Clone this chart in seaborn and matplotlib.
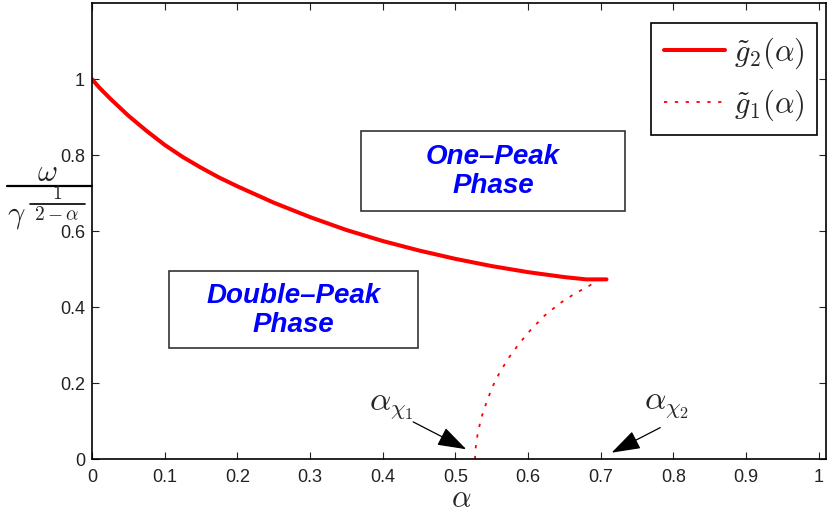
import numpy as np
import pandas as pd
import matplotlib
matplotlib.use('Agg')
import matplotlib.pyplot as plt
from matplotlib.lines import Line2D
import seaborn as sns

# ---------------------- 数据 ----------------------
g2_alpha = [0.0, 0.01, 0.025, 0.05, 0.075, 0.1, 0.125, 0.15, 0.175, 0.2, 0.25, 0.3,
            0.35, 0.4, 0.45, 0.5, 0.55, 0.6, 0.65, 0.68, 0.708]
g2_value = [1.0, 0.978, 0.949, 0.904, 0.864, 0.827, 0.795, 0.767, 0.741, 0.718,
            0.675, 0.637, 0.603, 0.574, 0.549, 0.527, 0.508, 0.492, 0.479, 0.473, 0.473]

g1_alpha = [0.527, 0.528, 0.531, 0.536, 0.543, 0.551, 0.561, 0.574, 0.589, 0.605,
            0.623, 0.643, 0.664, 0.685, 0.692]
g1_value = [0.0, 0.030, 0.070, 0.110, 0.150, 0.190, 0.228, 0.268, 0.307, 0.343,
            0.378, 0.409, 0.435, 0.457, 0.466]

x_ticks = [0, 0.1, 0.2, 0.3, 0.4, 0.5, 0.6, 0.7, 0.8, 0.9, 1]
x_tick_labels = ['0', '0.1', '0.2', '0.3', '0.4', '0.5', '0.6', '0.7', '0.8', '0.9', '1']
y_ticks = [0, 0.2, 0.4, 0.6, 0.8, 1]
y_tick_labels = ['0', '0.2', '0.4', '0.6', '0.8', '1']

df_g2 = pd.DataFrame({'alpha': g2_alpha, 'val': g2_value})
df_g1 = pd.DataFrame({'alpha': g1_alpha, 'val': g1_value})

# ---------------------- 样式 ----------------------
sns.set_style('ticks')
plt.rcParams['font.family'] = ['Liberation Sans', 'DejaVu Sans']
plt.rcParams['mathtext.fontset'] = 'cm'
plt.rcParams['xtick.direction'] = 'in'
plt.rcParams['ytick.direction'] = 'in'

W, H = 828, 513
fig = plt.figure(figsize=(8.28, 5.13), dpi=100)
ax = fig.add_axes([0.111, 0.105, 0.8866, 0.889])

sns.lineplot(data=df_g2, x='alpha', y='val', color='red', lw=2.9, sort=False,
             ax=ax, label=r'$\tilde{g}_2(\alpha)$')
sns.lineplot(data=df_g1, x='alpha', y='val', color='red', lw=1.3, sort=False,
             ax=ax, linestyle=(0, (1.8, 4.2)), label=r'$\tilde{g}_1(\alpha)$')

ax.set_xlim(0, 1.01)
ax.set_ylim(0, 1.2)
ax.set_xticks(x_ticks)
ax.set_xticklabels(x_tick_labels)
ax.set_yticks(y_ticks)
ax.set_yticklabels(y_tick_labels)
ax.tick_params(axis='both', labelsize=13, colors='#222222', length=5, width=0.8,
               top=True, right=True)
ax.tick_params(axis='x', pad=7)
ax.tick_params(axis='y', pad=5)
for s in ax.spines.values():
    s.set_visible(True)
    s.set_linewidth(1.2)
    s.set_color('black')

ax.set_xlabel('')
ax.set_ylabel('')

# 坐标换算：像素 -> figure 坐标
def fx(px):
    return px / W

def fy(py):
    return 1 - py / H

# 横轴标签 α
fig.text(fx(461), fy(507.5), r'$\alpha$', fontsize=22, ha='center', va='baseline')

# 纵轴标签 ω / γ^(1/(2-α))（手动拼出分式）
fig.text(fx(47), fy(173), r'$\omega$', fontsize=22, ha='center', va='center')
fig.add_artist(Line2D([fx(7), fx(92)], [fy(185.7), fy(185.7)], color='black',
                      lw=1.6, transform=fig.transFigure))
fig.text(fx(16), fy(216), r'$\gamma$', fontsize=22, ha='center', va='center')
fig.text(fx(57), fy(194), r'$1$', fontsize=14, ha='center', va='center')
fig.add_artist(Line2D([fx(30), fx(85)], [fy(204), fy(204)], color='black',
                      lw=1.2, transform=fig.transFigure))
fig.text(fx(57), fy(215), r'$2-\alpha$', fontsize=14, ha='center', va='center')

# 相区文字框
ax.add_patch(plt.Rectangle((0.106, 0.293), 0.342, 0.201, fill=False,
                           edgecolor='#333333', lw=1.2))
ax.add_patch(plt.Rectangle((0.370, 0.653), 0.363, 0.211, fill=False,
                           edgecolor='#333333', lw=1.2))
ax.text(0.277, 0.391, 'Double–Peak\nPhase', color='blue', fontsize=20,
        fontweight='bold', fontstyle='italic', ha='center', va='center',
        linespacing=1.15)
ax.text(0.552, 0.758, 'One–Peak\nPhase', color='blue', fontsize=20,
        fontweight='bold', fontstyle='italic', ha='center', va='center',
        linespacing=1.15)

# 箭头标注
arrow = dict(arrowstyle='-|>,head_length=0.9,head_width=0.3', color='black',
             lw=0.9, mutation_scale=20, shrinkA=0, shrinkB=0)
ax.text(0.412, 0.142, r'$\alpha_{\chi_1}$', fontsize=24, ha='center', va='center')
ax.annotate('', xy=(0.515, 0.026), xytext=(0.442, 0.098), arrowprops=arrow)
ax.text(0.790, 0.145, r'$\alpha_{\chi_2}$', fontsize=24, ha='center', va='center')
ax.annotate('', xy=(0.715, 0.017), xytext=(0.782, 0.083), arrowprops=arrow)

leg = ax.legend(loc='upper right', bbox_to_anchor=(fx(817), fy(23)),
                bbox_transform=fig.transFigure, borderaxespad=0,
                fontsize=22, frameon=True, fancybox=False, edgecolor='black',
                framealpha=1, handlelength=2.0, handletextpad=0.3,
                borderpad=0.4, labelspacing=0.55)
leg.get_frame().set_linewidth(1.2)

plt.savefig('out.png', dpi=100)
